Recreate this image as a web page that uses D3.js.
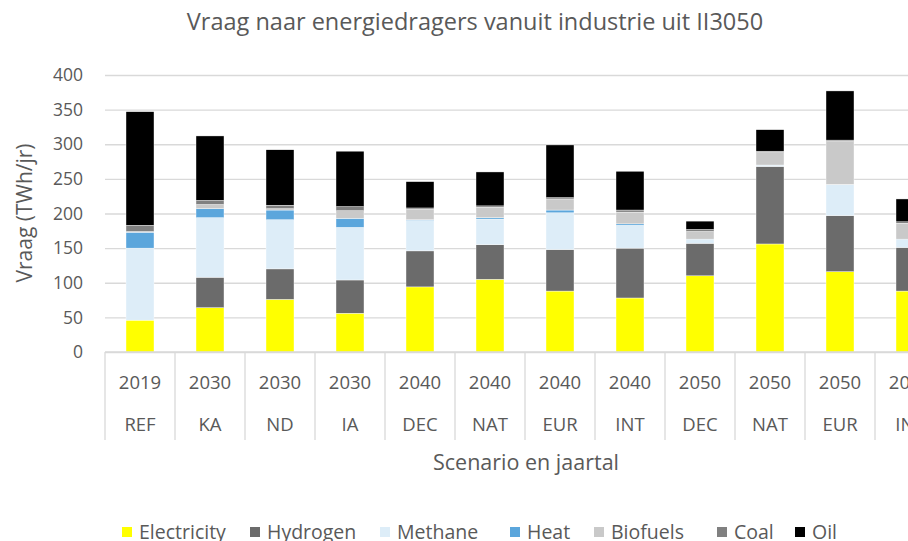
<!DOCTYPE html>
<html>
<head>
<meta charset="utf-8">
<script src="https://cdn.jsdelivr.net/npm/d3@7"></script>
<style>
  body { margin: 0; background: #fff; }
  svg { display: block; font-family: "Open Sans", sans-serif; }
  .grid line { stroke: #d9d9d9; stroke-width: 1.3; }
  .grid .domain { display: none; }
  text { fill: #595959; }
</style>
</head>
<body>
<svg id="chart" width="908" height="541"></svg>
<script>
"use strict";

// categorie-as: jaartal + scenario
var years = ["2019", "2030", "2030", "2030", "2040", "2040", "2040", "2040", "2050", "2050", "2050", "2050"];
var scenarios = ["REF", "KA", "ND", "IA", "DEC", "NAT", "EUR", "INT", "DEC", "NAT", "EUR", "INT"];

var electricity = [46, 64, 76, 56, 94, 105, 88, 78, 110, 156, 116, 88];
var hydrogen    = [0, 44, 44, 48, 52, 50, 60, 72, 47, 112, 81, 63];
var methane     = [104, 86, 71, 76, 44, 37, 53, 33, 5, 2, 45, 11];
var heat        = [23, 13, 14, 13, 1, 2, 4, 2, 1, 0, 0, 1];
var biofuels    = [1, 6, 2, 11, 15, 15, 16, 17, 11, 18, 62, 23];
var coal        = [9, 6, 5, 6, 2, 2, 2, 3, 3, 2, 2, 2];
var oil         = [164, 93, 80, 80, 38, 49, 76, 56, 12, 31, 71, 33];

var yTicks = [0, 50, 100, 150, 200, 250, 300, 350, 400];

var seriesNames = ["Electricity", "Hydrogen", "Methane", "Heat", "Biofuels", "Coal", "Oil"];
var seriesValues = [electricity, hydrogen, methane, heat, biofuels, coal, oil];
var seriesColors = ["#ffff00", "#6b6b6b", "#ddedf8", "#5ba6dc", "#c9c9c9", "#808080", "#000000"];

var cfg = {
  left: 105, right: 945, top: 75, bottom: 352
};

var svg = d3.select("#chart");

var x = d3.scaleBand()
  .domain(d3.range(years.length))
  .range([cfg.left, cfg.right])
  .paddingInner(0.6)
  .paddingOuter(0.3);

var y = d3.scaleLinear()
  .domain([0, 400])
  .range([cfg.bottom, cfg.top]);

// rijen opbouwen voor d3.stack
var rows = years.map(function(yr, i) {
  var r = {idx: i};
  seriesNames.forEach(function(n, k) { r[n] = seriesValues[k][i]; });
  return r;
});
var stacked = d3.stack().keys(seriesNames)(rows);

// gridlijnen
svg.append("g")
  .attr("class", "grid")
  .attr("transform", "translate(" + cfg.left + ",0)")
  .call(d3.axisLeft(y).tickValues(yTicks).tickSize(-(cfg.right - cfg.left)).tickFormat(""));

// y-as labels
svg.append("g").selectAll("text")
  .data(yTicks)
  .enter().append("text")
  .attr("x", 83)
  .attr("y", function(d) { return y(d); })
  .attr("dy", "0.35em")
  .attr("text-anchor", "end")
  .style("font-size", "17.5px")
  .text(function(d) { return d; });

// balken
svg.append("g").selectAll("g")
  .data(stacked)
  .enter().append("g")
  .attr("fill", function(d, i) { return seriesColors[i]; })
  .selectAll("rect")
  .data(function(d) { return d; })
  .enter().append("rect")
  .attr("x", function(d) { return x(d.data.idx); })
  .attr("width", x.bandwidth())
  .attr("y", function(d) { return y(d[1]); })
  .attr("height", function(d) { return Math.max(0, y(d[0]) - y(d[1])); })
  .attr("stroke", "#ffffff")
  .attr("stroke-width", 0.4);

// categorie-as: scheidingslijnen
var step = x.step();
svg.append("g").selectAll("line")
  .data(d3.range(years.length + 1))
  .enter().append("line")
  .attr("x1", function(i) { return cfg.left + i * step; })
  .attr("x2", function(i) { return cfg.left + i * step; })
  .attr("y1", cfg.bottom)
  .attr("y2", 440)
  .attr("stroke", "#d9d9d9")
  .attr("stroke-width", 1.3);

svg.append("line")
  .attr("x1", cfg.left).attr("x2", cfg.right)
  .attr("y1", cfg.bottom).attr("y2", cfg.bottom)
  .attr("stroke", "#d9d9d9").attr("stroke-width", 1.3);

var catLabels = svg.append("g");
catLabels.selectAll("text.year")
  .data(years)
  .enter().append("text")
  .attr("class", "year")
  .attr("x", function(d, i) { return x(i) + x.bandwidth() / 2; })
  .attr("y", 383)
  .attr("dy", "0.35em")
  .attr("text-anchor", "middle")
  .style("font-size", "18.5px")
  .text(function(d) { return d; });

catLabels.selectAll("text.scen")
  .data(scenarios)
  .enter().append("text")
  .attr("class", "scen")
  .attr("x", function(d, i) { return x(i) + x.bandwidth() / 2; })
  .attr("y", 425)
  .attr("dy", "0.35em")
  .attr("text-anchor", "middle")
  .style("font-size", "18.5px")
  .text(function(d) { return d; });

// titels
svg.append("text")
  .attr("x", 475).attr("y", 22)
  .attr("dy", "0.35em")
  .attr("text-anchor", "middle")
  .style("font-size", "23.5px")
  .text("Vraag naar energiedragers vanuit industrie uit II3050");

svg.append("text")
  .attr("transform", "translate(25," + 213 + ") rotate(-90)")
  .attr("dy", "0.35em")
  .attr("text-anchor", "middle")
  .style("font-size", "21px")
  .text("Vraag (TWh/jr)");

svg.append("text")
  .attr("x", 526).attr("y", 462)
  .attr("dy", "0.35em")
  .attr("text-anchor", "middle")
  .style("font-size", "21.5px")
  .text("Scenario en jaartal");

// legenda
var legendX = [122, 250, 380, 510, 594, 717, 795];
var legend = svg.append("g").selectAll("g")
  .data(seriesNames)
  .enter().append("g")
  .attr("transform", function(d, i) { return "translate(" + legendX[i] + ",532)"; });
legend.append("rect")
  .attr("x", 0).attr("y", -5)
  .attr("width", 10).attr("height", 10)
  .attr("fill", function(d, i) { return seriesColors[i]; });
legend.append("text")
  .attr("x", 17).attr("y", 0)
  .attr("dy", "0.35em")
  .style("font-size", "19.5px")
  .text(function(d) { return d; });
</script>
</body>
</html>
